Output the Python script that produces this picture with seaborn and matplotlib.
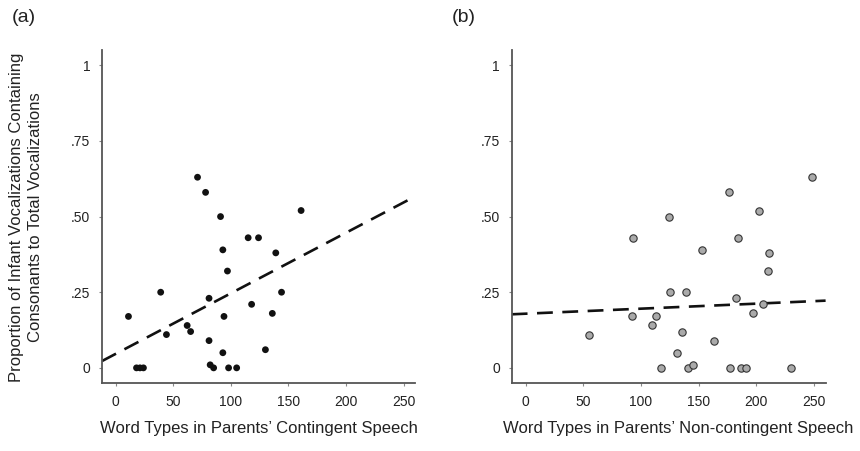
import matplotlib
matplotlib.use("Agg")
import matplotlib.pyplot as plt
import seaborn as sns
import pandas as pd

# Panel (a): contingent speech
a_x = [11, 18, 21, 24, 39, 44, 62, 65, 71, 78, 81, 81, 82, 85, 91, 93, 93, 94, 97, 98,
       105, 115, 118, 124, 130, 136, 139, 144, 161]
a_y = [0.17, 0, 0, 0, 0.25, 0.11, 0.14, 0.12, 0.63, 0.58, 0.23, 0.09, 0.01, 0, 0.50, 0.39,
       0.05, 0.17, 0.32, 0, 0, 0.43, 0.21, 0.43, 0.06, 0.18, 0.38, 0.25, 0.52]

# Panel (b): non-contingent speech
b_x = [55, 92, 93, 110, 113, 117, 124, 125, 131, 136, 139, 141, 145, 153, 163, 176, 177,
       182, 184, 187, 191, 197, 202, 206, 210, 211, 230, 248]
b_y = [0.11, 0.17, 0.43, 0.14, 0.17, 0, 0.50, 0.25, 0.05, 0.12, 0.25, 0, 0.01, 0.39, 0.09,
       0.58, 0, 0.23, 0.43, 0, 0, 0.18, 0.52, 0.21, 0.32, 0.38, 0, 0.63]

# Fitted regression lines as shown in the figure (intercept, slope)
fit_a = [0.0465, 0.00200]
fit_b = [0.179, 0.000166]

x_ticks = [0, 50, 100, 150, 200, 250]
y_ticks = [0, 0.25, 0.5, 0.75, 1]
y_tick_labels = ["0", ".25", ".50", ".75", "1"]

x_label_a = "Word Types in Parents\u2019 Contingent Speech"
x_label_b = "Word Types in Parents\u2019 Non-contingent Speech"
y_label = "Proportion of Infant Vocalizations Containing\nConsonants to Total Vocalizations"

sns.set_style("white")
plt.rcParams['font.family'] = ['Liberation Sans', 'DejaVu Sans']

df_a = pd.DataFrame({"x": a_x, "y": a_y})
df_b = pd.DataFrame({"x": b_x, "y": b_y})

fig = plt.figure(figsize=(8.6, 4.51), dpi=100)
ax_a = fig.add_axes([0.1186, 0.1508, 0.364, 0.738])
ax_b = fig.add_axes([0.595, 0.1508, 0.365, 0.738])

spine_col = "#555555"
text_col = "#222222"

def style(ax):
    for s in ["top", "right"]:
        ax.spines[s].set_visible(False)
    for s in ["left", "bottom"]:
        ax.spines[s].set_color(spine_col)
        ax.spines[s].set_linewidth(1.3)
    ax.set_xticks(x_ticks)
    ax.set_yticks(y_ticks)
    ax.set_yticklabels(y_tick_labels)
    ax.tick_params(axis="both", which="major", direction="out", length=2.5, width=0.8,
                   color="#888888", labelsize=10, labelcolor=text_col, pad=6,
                   left=True, bottom=True)
    ax.set_xlim(-12, 260)
    ax.set_ylim(-0.05, 1.05)

sns.scatterplot(data=df_a, x="x", y="y", ax=ax_a, s=24, color="#111111",
                edgecolor="none", linewidth=0, zorder=3)
sns.scatterplot(data=df_b, x="x", y="y", ax=ax_b, s=28, color="#aaaaaa",
                edgecolor="#333333", linewidth=0.8, zorder=3)

dash = (0, (6, 3.6))
ax_a.axline((0, fit_a[0]), slope=fit_a[1], color="#111111", linestyle=dash, linewidth=1.9, zorder=2)
ax_b.axline((0, fit_b[0]), slope=fit_b[1], color="#111111", linestyle=dash, linewidth=1.9, zorder=2)

style(ax_a)
style(ax_b)

for ax, lab, xc in ((ax_a, x_label_a, 0.5), (ax_b, x_label_b, 0.53)):
    ax.set_ylabel("")
    ax.set_xlabel(lab, fontsize=12, color=text_col)
    ax.xaxis.set_label_coords(xc, -0.113, transform=ax.transAxes)
    ax.xaxis.label.set_va("top")

fig.text(26 / 860, 1 - 217 / 451, y_label, rotation=90, ha="center", va="center",
         fontsize=12, color=text_col, linespacing=1.4, multialignment="center")

fig.text(12 / 860, 1 - 18 / 451, "(a)", fontsize=14, ha="left", va="center", color=text_col)
fig.text(452 / 860, 1 - 18 / 451, "(b)", fontsize=14, ha="left", va="center", color=text_col)

fig.savefig("out.png", dpi=100)
